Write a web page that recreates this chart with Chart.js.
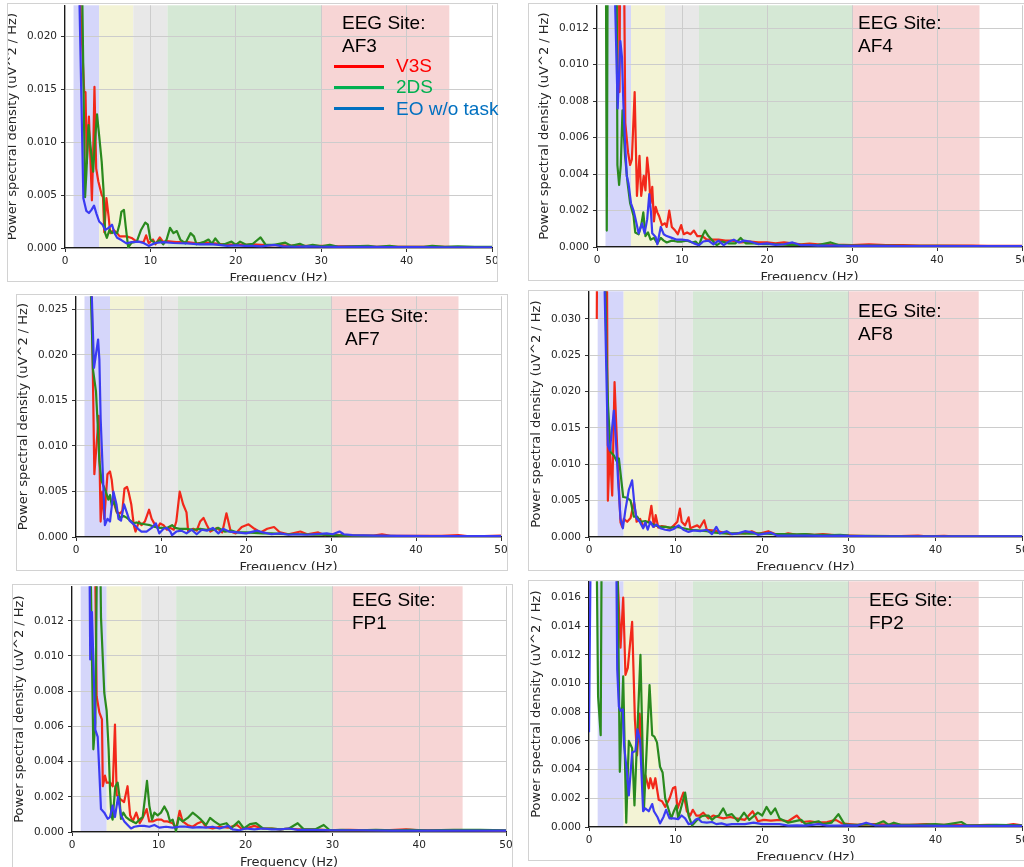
<!DOCTYPE html>
<html>
<head>
<meta charset="utf-8">
<script src="https://cdn.jsdelivr.net/npm/chart.js@4.4.1/dist/chart.umd.min.js"></script>
<style>
  html, body { margin: 0; padding: 0; background: #fff; width: 1024px; height: 867px; overflow: hidden; }
  .frame { position: absolute; box-sizing: border-box; border: 1px solid #d2d2d2; overflow: hidden; background: #fff; }
  .frame canvas { position: absolute; }
  .site { position: absolute; font-family: 'Liberation Sans', Arial, sans-serif; font-size: 19px; line-height: 22.5px; color: #000; white-space: pre; z-index: 5; }
  .key { position: absolute; height: 3px; width: 50px; z-index: 5; }
  .keytext { position: absolute; font-family: 'Liberation Sans', Arial, sans-serif; font-size: 19px; line-height: 22px; white-space: pre; z-index: 5; }
</style>
</head>
<body>
<script>
// frequency bands (Hz): delta, theta, alpha, beta, gamma
const bandStart = [1, 4, 8, 12, 30];
const bandEnd = [4, 8, 12, 30, 45];
const bandColors = ['rgb(213,214,250)', 'rgb(243,243,213)', 'rgb(232,232,232)', 'rgb(213,232,213)', 'rgb(247,213,213)'];

const xMin = 0, xMax = 50, xStep = 10;
const seriesNames = ['V3S', '2DS', 'EO w/o task'];
const lineColors = ['#f2281a', '#2a8a1e', '#3b3bf2'];
const legendColors = ['#ff0000', '#00b050', '#0070c0'];

// [frequency Hz, PSD uV^2/Hz]
const af3V3s = [[1.0,90e-3],[1.8,23e-3],[2.25,14.7e-3],[2.4,14.7e-3],[2.55,8e-3],[2.8,12.4e-3],[2.95,9e-3],[3.15,4.5e-3],[3.3,9e-3],[3.45,15.2e-3],[3.65,7.5e-3],[3.9,6.3e-3],[4.3,5.0e-3],[4.45,4.8e-3],[4.6,1.5e-3],[4.85,4.7e-3],[5.1,3.0e-3],[5.3,1.4e-3],[5.7,1.7e-3],[6.1,1.4e-3],[6.4,1.1e-3],[7.2,1.1e-3],[7.8,0.95e-3],[8.4,0.6e-3],[9.2,0.55e-3],[9.5,1.2e-3],[9.8,0.45e-3],[10.3,0.8e-3],[10.6,0.35e-3],[11.1,1.0e-3],[11.5,0.55e-3],[11.9,0.65e-3],[13,0.55e-3],[14.3,0.55e-3],[15.4,0.45e-3],[16.6,0.5e-3],[18,0.4e-3],[19,0.3e-3],[20,0.35e-3],[21,0.3e-3],[22,0.35e-3],[23,0.3e-3],[24,0.25e-3],[25,0.3e-3],[26,0.2e-3],[27,0.25e-3],[28,0.2e-3],[29,0.2e-3],[30,0.2e-3],[32,0.15e-3],[34,0.15e-3],[36,0.12e-3],[38,0.12e-3],[40,0.1e-3],[42,0.1e-3],[44,0.1e-3],[46,0.08e-3],[48,0.08e-3],[50,0.08e-3]];
const af3TwoDs = [[1.0,100e-3],[2.0,25e-3],[2.35,4.8e-3],[2.5,7e-3],[2.75,11.6e-3],[3.0,9.5e-3],[3.3,7.2e-3],[3.5,10e-3],[3.75,12.6e-3],[4.0,10.6e-3],[4.3,8.1e-3],[4.5,5.6e-3],[4.7,1.4e-3],[4.9,0.96e-3],[5.2,1.7e-3],[5.5,1.4e-3],[5.7,1.5e-3],[6.1,1.4e-3],[6.4,2.3e-3],[6.6,3.4e-3],[6.9,3.6e-3],[7.1,2.1e-3],[7.4,0.05e-3],[7.8,0.5e-3],[8.4,0.6e-3],[8.9,1.7e-3],[9.4,2.4e-3],[9.7,2.2e-3],[10.0,0.8e-3],[10.6,0.44e-3],[11.1,0.75e-3],[11.5,0.35e-3],[11.9,0.8e-3],[12.3,1.9e-3],[12.7,1.4e-3],[13.1,1.6e-3],[13.5,0.8e-3],[14.1,0.44e-3],[14.7,1.4e-3],[15.1,1.1e-3],[15.4,0.35e-3],[16.2,0.55e-3],[16.8,0.8e-3],[17.2,0.4e-3],[17.6,0.9e-3],[18.2,0.3e-3],[18.8,0.4e-3],[19.5,0.6e-3],[20.0,0.3e-3],[20.5,0.6e-3],[21.2,0.3e-3],[22.0,0.4e-3],[22.9,1.0e-3],[23.5,0.3e-3],[24.5,0.3e-3],[25.8,0.5e-3],[26.5,0.2e-3],[27.5,0.4e-3],[28.2,0.15e-3],[29.0,0.3e-3],[30,0.15e-3],[31,0.3e-3],[32,0.12e-3],[33.5,0.15e-3],[35.5,0.2e-3],[36.5,0.1e-3],[38,0.2e-3],[39,0.1e-3],[40.5,0.12e-3],[42,0.1e-3],[43,0.2e-3],[44.5,0.1e-3],[46,0.15e-3],[48,0.1e-3],[50,0.1e-3]];
const af3Eo = [[1.0,60e-3],[1.7,23e-3],[2.15,4.7e-3],[2.5,3.5e-3],[2.8,3.3e-3],[3.1,3.6e-3],[3.4,4.0e-3],[3.7,3.2e-3],[4.0,2.5e-3],[4.4,2.2e-3],[4.7,1.7e-3],[5.1,1.9e-3],[5.5,2.2e-3],[5.8,1.4e-3],[6.1,0.96e-3],[6.6,0.75e-3],[7.2,0.44e-3],[7.8,0.55e-3],[8.6,0.6e-3],[9.2,0.47e-3],[9.8,0.2e-3],[10.6,0.47e-3],[11.5,0.55e-3],[12.7,0.47e-3],[14.3,0.44e-3],[15.8,0.35e-3],[17,0.37e-3],[18,0.3e-3],[19,0.2e-3],[20,0.25e-3],[21,0.2e-3],[22,0.2e-3],[23,0.15e-3],[24.5,0.3e-3],[25.5,0.15e-3],[27,0.12e-3],[28.5,0.15e-3],[30,0.12e-3],[32,0.1e-3],[35,0.1e-3],[38,0.08e-3],[41,0.08e-3],[44,0.07e-3],[47,0.07e-3],[50,0.07e-3]];

const af4V3s = [[1.0,50e-3],[2.5,25e-3],[2.65,8.5e-3],[2.8,25e-3],[3.1,20e-3],[3.33,6.8e-3],[3.65,5.2e-3],[3.9,4.5e-3],[4.1,4.8e-3],[4.43,8.5e-3],[4.7,2.8e-3],[5.0,5.0e-3],[5.2,2.8e-3],[5.5,3.9e-3],[5.7,3.1e-3],[5.9,4.9e-3],[6.1,4.0e-3],[6.3,2.4e-3],[6.5,3.3e-3],[6.7,1.4e-3],[6.9,2.2e-3],[7.1,1.9e-3],[7.3,1.7e-3],[7.65,1.2e-3],[8.0,1.3e-3],[8.2,1.1e-3],[8.5,2.0e-3],[8.8,1.1e-3],[9.2,0.9e-3],[9.5,0.7e-3],[9.9,1.2e-3],[10.2,0.7e-3],[10.6,0.8e-3],[11.0,0.7e-3],[11.4,0.9e-3],[11.8,0.6e-3],[12.4,0.6e-3],[12.9,0.4e-3],[13.5,0.4e-3],[14.3,0.4e-3],[15.1,0.35e-3],[15.9,0.35e-3],[16.9,0.25e-3],[18,0.3e-3],[19,0.25e-3],[20,0.25e-3],[21,0.2e-3],[22,0.25e-3],[23,0.2e-3],[24,0.15e-3],[25,0.18e-3],[26,0.15e-3],[27,0.15e-3],[28,0.12e-3],[29,0.12e-3],[30,0.1e-3],[32,0.15e-3],[34,0.1e-3],[36,0.1e-3],[38,0.08e-3],[40,0.08e-3],[42,0.08e-3],[44,0.08e-3],[46,0.06e-3],[48,0.06e-3],[50,0.06e-3]];
const af4TwoDs = [[0.95,30e-3],[1.15,0.9e-3],[1.35,30e-3],[2.2,30e-3],[2.4,4.5e-3],[2.6,3.4e-3],[2.8,4.5e-3],[3.0,7.5e-3],[3.3,5.0e-3],[3.6,3.5e-3],[3.9,2.4e-3],[4.3,1.7e-3],[4.5,0.8e-3],[4.9,0.7e-3],[5.2,1.2e-3],[5.45,1.9e-3],[5.7,0.6e-3],[6.0,0.8e-3],[6.3,0.4e-3],[6.7,0.5e-3],[7.1,0.2e-3],[7.5,0.5e-3],[7.85,0.35e-3],[8.2,0.25e-3],[8.8,0.35e-3],[9.4,0.3e-3],[10,0.3e-3],[10.6,0.35e-3],[11.2,0.25e-3],[11.6,0.3e-3],[12,0.1e-3],[12.4,0.6e-3],[12.7,0.9e-3],[13.1,0.6e-3],[13.5,0.4e-3],[14.1,0.1e-3],[14.7,0.3e-3],[15.5,0.2e-3],[16.3,0.2e-3],[16.9,0.5e-3],[17.5,0.2e-3],[18.5,0.2e-3],[19.5,0.15e-3],[21,0.15e-3],[22.5,0.12e-3],[24,0.12e-3],[26,0.1e-3],[27.5,0.25e-3],[28.5,0.1e-3],[30,0.08e-3],[33,0.08e-3],[36,0.06e-3],[40,0.06e-3],[45,0.05e-3],[50,0.05e-3]];
const af4Eo = [[1.0,50e-3],[2.1,14e-3],[2.43,7.6e-3],[2.75,11.3e-3],[2.94,10.4e-3],[3.1,7.9e-3],[3.3,5.7e-3],[3.5,3.9e-3],[3.7,3.5e-3],[4.0,2.4e-3],[4.3,2.0e-3],[4.5,1.6e-3],[4.9,0.75e-3],[5.3,1.3e-3],[5.6,0.75e-3],[5.9,1.5e-3],[6.15,2.9e-3],[6.35,1.9e-3],[6.5,0.75e-3],[6.9,0.55e-3],[7.1,0.15e-3],[7.5,1.1e-3],[7.85,0.7e-3],[8.2,0.6e-3],[8.8,0.5e-3],[9.4,0.4e-3],[10,0.4e-3],[10.8,0.35e-3],[11.4,0.2e-3],[12,0.1e-3],[12.5,0.3e-3],[13.1,0.35e-3],[13.7,0.15e-3],[14.3,0.35e-3],[14.9,0.1e-3],[15.5,0.3e-3],[16.1,0.4e-3],[16.7,0.25e-3],[17.3,0.35e-3],[18,0.3e-3],[19,0.15e-3],[20,0.2e-3],[21,0.12e-3],[22,0.15e-3],[23,0.25e-3],[24,0.1e-3],[25,0.1e-3],[26,0.08e-3],[28,0.08e-3],[30,0.06e-3],[33,0.06e-3],[36,0.05e-3],[40,0.05e-3],[45,0.05e-3],[50,0.05e-3]];

const af7V3s = [[1.0,60e-3],[1.84,27e-3],[2.16,6.9e-3],[2.67,13.3e-3],[2.9,1.7e-3],[3.1,5.0e-3],[3.33,2.0e-3],[3.7,6.9e-3],[4.0,7.2e-3],[4.2,6.3e-3],[4.5,3.6e-3],[4.8,2.7e-3],[5.2,2.6e-3],[5.45,2.9e-3],[5.7,5.3e-3],[6.0,5.5e-3],[6.2,4.9e-3],[6.5,3.6e-3],[6.8,1.3e-3],[7.0,0.6e-3],[7.4,1.7e-3],[7.7,1.3e-3],[8.1,1.7e-3],[8.6,3.0e-3],[8.9,2.0e-3],[9.2,1.5e-3],[9.6,1.0e-3],[9.9,1.5e-3],[10.3,1.3e-3],[10.7,0.8e-3],[11.1,1.0e-3],[11.5,0.8e-3],[11.8,1.7e-3],[12.2,5.0e-3],[12.6,3.6e-3],[13.0,2.7e-3],[13.2,0.6e-3],[13.8,0.9e-3],[14.2,0.7e-3],[14.6,1.7e-3],[15.0,2.1e-3],[15.4,1.3e-3],[15.8,0.6e-3],[16.6,1.0e-3],[17.2,0.5e-3],[17.7,2.6e-3],[18.2,0.6e-3],[18.8,0.4e-3],[19.5,1.1e-3],[20.3,1.4e-3],[21.0,0.9e-3],[21.7,0.5e-3],[22.5,0.9e-3],[23.3,1.1e-3],[24.0,0.5e-3],[25.0,0.3e-3],[26.4,0.6e-3],[27.2,0.3e-3],[28.5,0.5e-3],[29.3,0.2e-3],[30,0.3e-3],[31,0.2e-3],[33,0.15e-3],[35,0.15e-3],[36,0.3e-3],[37,0.12e-3],[40,0.12e-3],[43,0.12e-3],[45,0.2e-3],[46,0.1e-3],[48,0.1e-3],[50,0.15e-3]];
const af7TwoDs = [[1.0,60e-3],[1.75,27e-3],[2.0,18.4e-3],[2.35,16.0e-3],[2.6,11.5e-3],[2.75,8.3e-3],[3.0,6.2e-3],[3.2,5.7e-3],[3.5,5.0e-3],[3.8,4.1e-3],[4.0,4.6e-3],[4.2,3.5e-3],[4.5,3.9e-3],[4.8,2.8e-3],[5.2,2.1e-3],[5.6,2.3e-3],[6.0,2.1e-3],[6.4,1.8e-3],[6.75,1.5e-3],[7.1,1.6e-3],[7.5,1.5e-3],[8.1,1.4e-3],[8.7,1.3e-3],[9.3,1.1e-3],[9.9,1.0e-3],[10.7,1.0e-3],[11.3,1.3e-3],[11.65,1.0e-3],[12.2,0.9e-3],[13.0,0.9e-3],[13.8,0.8e-3],[14.6,0.9e-3],[15.4,0.8e-3],[16.2,0.8e-3],[16.75,1.0e-3],[17.5,0.6e-3],[18.3,0.7e-3],[19,0.5e-3],[20,0.5e-3],[21,0.45e-3],[22,0.4e-3],[23,0.4e-3],[24,0.35e-3],[25,0.3e-3],[26,0.3e-3],[27,0.3e-3],[28,0.25e-3],[29,0.25e-3],[30,0.2e-3],[32,0.15e-3],[35,0.12e-3],[38,0.1e-3],[42,0.1e-3],[46,0.1e-3],[50,0.1e-3]];
const af7Eo = [[1.0,60e-3],[1.84,27e-3],[2.12,18.6e-3],[2.6,21.7e-3],[2.75,19.5e-3],[2.9,13.0e-3],[3.4,1.3e-3],[3.7,2.0e-3],[4.0,1.7e-3],[4.4,5.0e-3],[4.76,3.6e-3],[5.0,2.0e-3],[5.3,1.8e-3],[5.65,3.6e-3],[5.9,2.9e-3],[6.3,1.8e-3],[6.9,1.3e-3],[7.3,0.9e-3],[7.7,0.6e-3],[8.3,0.6e-3],[8.9,1.0e-3],[9.4,1.5e-3],[9.8,0.4e-3],[10.3,0.9e-3],[10.7,1.0e-3],[11.1,0.6e-3],[11.3,0.2e-3],[11.8,0.6e-3],[12.4,0.7e-3],[13.0,0.4e-3],[13.6,0.8e-3],[14.2,0.3e-3],[14.8,0.8e-3],[15.4,0.7e-3],[16.1,1.0e-3],[16.75,0.4e-3],[17.3,0.9e-3],[18,0.6e-3],[19,0.5e-3],[20,0.4e-3],[21.3,0.7e-3],[22,0.5e-3],[23,0.3e-3],[24,0.4e-3],[25,0.25e-3],[26,0.3e-3],[27,0.25e-3],[28,0.3e-3],[29.5,0.4e-3],[30.2,0.3e-3],[31.0,0.6e-3],[31.5,0.3e-3],[32.5,0.2e-3],[35,0.15e-3],[38,0.12e-3],[42,0.1e-3],[46,0.1e-3],[50,0.1e-3]];

const af8V3s = [[0.9,30.0e-3],[1.0,60e-3],[2.0,60e-3],[2.18,5.0e-3],[2.41,12.1e-3],[2.68,5.7e-3],[2.95,21.3e-3],[3.18,14.4e-3],[3.37,8.9e-3],[3.64,2.0e-3],[3.83,1.4e-3],[4.02,2.5e-3],[4.41,2.1e-3],[4.8,2.6e-3],[5.2,4.8e-3],[5.5,2.1e-3],[5.9,2.5e-3],[6.3,1.4e-3],[6.7,2.1e-3],[6.9,2.1e-3],[7.2,4.3e-3],[7.5,1.4e-3],[7.7,3.0e-3],[8.0,1.3e-3],[8.4,1.5e-3],[8.9,1.4e-3],[9.4,1.2e-3],[9.8,1.6e-3],[10.2,2.1e-3],[10.5,3.9e-3],[10.7,2.1e-3],[11.1,1.6e-3],[11.5,2.7e-3],[11.7,1.2e-3],[12.1,1.4e-3],[12.5,1.6e-3],[12.8,1.3e-3],[13.3,2.3e-3],[13.6,1.0e-3],[14.2,0.9e-3],[14.8,0.8e-3],[15.5,0.6e-3],[16.3,0.4e-3],[17.2,0.5e-3],[18,0.5e-3],[18.8,0.8e-3],[19.5,0.4e-3],[20.7,0.8e-3],[21.5,0.4e-3],[22.3,0.3e-3],[23,0.5e-3],[24,0.3e-3],[25,0.4e-3],[26,0.3e-3],[27,0.4e-3],[28,0.3e-3],[29,0.2e-3],[30,0.2e-3],[32,0.12e-3],[35,0.1e-3],[38,0.2e-3],[39,0.1e-3],[41,0.15e-3],[42,0.1e-3],[45,0.1e-3],[50,0.08e-3]];
const af8TwoDs = [[1.0,60e-3],[1.8,40e-3],[2.0,26.3e-3],[2.2,18e-3],[2.5,11.7e-3],[2.87,11.2e-3],[3.26,10.3e-3],[3.45,10.8e-3],[3.95,5.5e-3],[4.4,5.4e-3],[4.8,5.0e-3],[5.17,2.8e-3],[5.56,2.8e-3],[5.94,2.1e-3],[6.5,2.2e-3],[7.09,1.9e-3],[7.66,1.6e-3],[8.24,1.4e-3],[8.81,1.4e-3],[9.39,1.3e-3],[10.15,1.4e-3],[10.9,1.2e-3],[11.7,1.0e-3],[12.6,0.9e-3],[13.6,0.8e-3],[14.56,0.6e-3],[15.5,0.5e-3],[16.5,0.5e-3],[17.5,0.5e-3],[18.5,0.45e-3],[19.5,0.5e-3],[20.5,0.45e-3],[21.5,0.4e-3],[22.5,0.4e-3],[24,0.35e-3],[25,0.4e-3],[26,0.3e-3],[27,0.3e-3],[28,0.25e-3],[29,0.3e-3],[30,0.2e-3],[32,0.15e-3],[35,0.12e-3],[38,0.1e-3],[42,0.1e-3],[46,0.1e-3],[50,0.1e-3]];
const af8Eo = [[1.0,60e-3],[1.7,40e-3],[2.18,12.6e-3],[2.41,11.9e-3],[2.87,17.4e-3],[3.1,13.5e-3],[3.37,7.6e-3],[3.64,2.5e-3],[3.91,1.2e-3],[4.2,3.7e-3],[4.6,6.5e-3],[4.98,7.8e-3],[5.25,4.4e-3],[5.48,2.6e-3],[5.86,2.1e-3],[6.25,1.2e-3],[6.5,2.0e-3],[6.78,1.0e-3],[7.09,2.1e-3],[7.4,1.4e-3],[7.78,1.7e-3],[8.24,1.2e-3],[8.81,1.0e-3],[9.31,0.9e-3],[9.77,1.1e-3],[10.34,1.6e-3],[10.9,1.0e-3],[11.49,0.7e-3],[12.07,0.9e-3],[12.84,0.8e-3],[13.6,1.0e-3],[14.2,0.4e-3],[14.7,1.4e-3],[15.1,0.5e-3],[15.9,0.8e-3],[16.5,0.4e-3],[17.2,0.5e-3],[18,0.8e-3],[19,0.6e-3],[19.5,0.3e-3],[20.5,0.5e-3],[21,0.6e-3],[21.7,0.2e-3],[23,0.2e-3],[25,0.2e-3],[27,0.15e-3],[29,0.2e-3],[30,0.15e-3],[33,0.1e-3],[37,0.1e-3],[42,0.08e-3],[46,0.08e-3],[50,0.08e-3]];

const fp1V3s = [[1.0,50e-3],[2.45,25e-3],[2.84,7.7e-3],[3.15,6.8e-3],[3.3,6.6e-3],[3.45,6.4e-3],[3.55,2.6e-3],[3.8,3.2e-3],[4.0,2.8e-3],[4.4,2.8e-3],[4.7,2.6e-3],[4.95,6.1e-3],[5.15,2.1e-3],[5.5,1.9e-3],[6.0,1.7e-3],[6.4,2.6e-3],[6.7,0.95e-3],[7.0,0.6e-3],[7.4,1.1e-3],[7.8,0.5e-3],[8.1,0.75e-3],[8.6,1.3e-3],[8.9,0.6e-3],[9.3,0.6e-3],[9.75,0.7e-3],[10.3,0.7e-3],[10.6,0.6e-3],[11.0,0.6e-3],[11.6,0.5e-3],[12.0,0.2e-3],[12.4,1.2e-3],[12.75,0.6e-3],[13.3,0.4e-3],[13.9,0.3e-3],[14.5,0.5e-3],[15.0,0.6e-3],[15.4,0.3e-3],[16.2,0.2e-3],[17,0.3e-3],[18,0.25e-3],[19,0.4e-3],[19.5,0.2e-3],[20,0.2e-3],[21,0.35e-3],[22,0.2e-3],[23,0.2e-3],[24,0.15e-3],[25,0.2e-3],[26,0.15e-3],[27,0.15e-3],[28,0.15e-3],[29,0.12e-3],[30,0.1e-3],[32,0.12e-3],[34,0.1e-3],[36,0.1e-3],[38.5,0.15e-3],[40,0.1e-3],[43,0.1e-3],[46,0.1e-3],[50,0.08e-3]];
const fp1TwoDs = [[1.0,50e-3],[2.0,20e-3],[2.3,9.8e-3],[2.46,4.7e-3],[2.69,6.2e-3],[2.96,20e-3],[3.15,20e-3],[3.34,12.2e-3],[3.72,7.9e-3],[3.99,6.9e-3],[4.22,4.7e-3],[4.38,2.4e-3],[4.53,0.95e-3],[4.68,0.7e-3],[4.99,2.6e-3],[5.26,2.8e-3],[5.45,2.1e-3],[5.64,0.75e-3],[5.91,1.1e-3],[6.22,0.85e-3],[6.6,0.7e-3],[6.99,0.6e-3],[7.37,0.5e-3],[7.76,0.7e-3],[8.14,0.85e-3],[8.45,2.1e-3],[8.64,2.9e-3],[8.91,1.5e-3],[9.22,0.7e-3],[9.49,1.1e-3],[9.87,0.95e-3],[10.25,1.1e-3],[10.64,1.45e-3],[11.02,1.1e-3],[11.29,0.6e-3],[11.6,0.7e-3],[11.98,0.05e-3],[12.29,0.8e-3],[12.75,0.6e-3],[13.33,0.8e-3],[13.9,1.1e-3],[14.29,0.95e-3],[14.86,0.7e-3],[15.44,0.4e-3],[15.9,0.8e-3],[16.4,0.6e-3],[17,0.4e-3],[17.8,0.5e-3],[18.3,0.2e-3],[19.2,0.6e-3],[19.8,0.2e-3],[20.5,0.45e-3],[21.2,0.5e-3],[22,0.2e-3],[23,0.2e-3],[24,0.15e-3],[25,0.2e-3],[26,0.5e-3],[26.7,0.15e-3],[28,0.15e-3],[29,0.4e-3],[29.7,0.1e-3],[31,0.12e-3],[33,0.1e-3],[35,0.12e-3],[37,0.1e-3],[39,0.12e-3],[41,0.1e-3],[44,0.12e-3],[47,0.12e-3],[50,0.1e-3]];
const fp1Eo = [[1.0,50e-3],[1.95,20e-3],[2.1,9.8e-3],[2.3,12.5e-3],[2.69,5.8e-3],[2.96,5.4e-3],[3.15,3.4e-3],[3.34,1.3e-3],[3.72,1.1e-3],[4.11,0.75e-3],[4.38,0.85e-3],[4.68,1.5e-3],[4.95,0.85e-3],[5.3,2.0e-3],[5.64,0.95e-3],[6.03,0.6e-3],[6.41,0.4e-3],[6.8,0.2e-3],[7.18,0.3e-3],[7.76,0.35e-3],[8.33,0.35e-3],[8.91,0.3e-3],[9.49,0.4e-3],[10.06,0.25e-3],[10.83,0.3e-3],[11.6,0.25e-3],[12.37,0.3e-3],[13.1,0.3e-3],[13.9,0.25e-3],[14.67,0.28e-3],[15.44,0.25e-3],[16.2,0.3e-3],[17,0.2e-3],[18,0.35e-3],[18.5,0.15e-3],[19.3,0.1e-3],[20,0.2e-3],[21,0.15e-3],[22,0.2e-3],[23,0.15e-3],[24,0.15e-3],[25,0.2e-3],[26,0.12e-3],[28,0.12e-3],[30,0.1e-3],[33,0.1e-3],[37,0.08e-3],[41,0.08e-3],[45,0.08e-3],[50,0.08e-3]];

const fp2V3s = [[0.5,60e-3],[3.0,30e-3],[3.3,17.5e-3],[3.64,12.5e-3],[3.95,16.0e-3],[4.21,10.6e-3],[4.48,11.1e-3],[4.98,14.3e-3],[5.3,7.5e-3],[5.55,5.0e-3],[5.85,7.9e-3],[6.05,5.5e-3],[6.25,3.4e-3],[6.51,3.6e-3],[6.9,2.7e-3],[7.09,3.4e-3],[7.4,2.7e-3],[7.66,3.4e-3],[8.05,1.9e-3],[8.43,1.8e-3],[8.81,1.4e-3],[9.31,2.0e-3],[9.69,2.7e-3],[9.96,2.8e-3],[10.23,1.3e-3],[10.54,1.8e-3],[10.9,2.4e-3],[11.3,1.1e-3],[11.69,0.8e-3],[11.99,1.2e-3],[12.38,0.8e-3],[12.76,0.8e-3],[13.2,1.0e-3],[13.8,0.6e-3],[14.37,0.8e-3],[14.9,0.7e-3],[15.5,0.6e-3],[16.3,0.7e-3],[17,0.6e-3],[18,0.5e-3],[18.9,1.1e-3],[19.5,0.4e-3],[20.2,0.5e-3],[21,0.45e-3],[22,0.5e-3],[23,0.4e-3],[24,0.8e-3],[24.6,0.35e-3],[25.5,0.4e-3],[26.5,0.3e-3],[27.5,0.35e-3],[28.5,0.5e-3],[29.2,0.25e-3],[30,0.2e-3],[31,0.15e-3],[33,0.2e-3],[35,0.15e-3],[37,0.15e-3],[39,0.2e-3],[40,0.15e-3],[42,0.15e-3],[44,0.12e-3],[46,0.15e-3],[48,0.12e-3],[49,0.2e-3],[50,0.12e-3]];
const fp2TwoDs = [[0.7,30e-3],[1.05,9.1e-3],[1.35,6.4e-3],[1.55,30e-3],[3.1,30e-3],[3.56,3.85e-3],[3.95,10.5e-3],[4.3,0.3e-3],[4.6,6.0e-3],[4.98,5.5e-3],[5.25,1.5e-3],[5.94,12.0e-3],[6.35,1.3e-3],[6.99,9.9e-3],[7.3,6.4e-3],[7.55,6.3e-3],[7.85,5.9e-3],[8.2,4.2e-3],[8.5,3.8e-3],[8.8,2.0e-3],[9.2,1.2e-3],[9.5,0.6e-3],[9.8,1.1e-3],[10.1,1.5e-3],[10.3,0.6e-3],[10.7,1.5e-3],[11.1,2.4e-3],[11.5,0.8e-3],[11.9,0.1e-3],[12.5,0.5e-3],[13.0,0.75e-3],[13.4,0.8e-3],[13.8,0.8e-3],[14.2,0.5e-3],[14.6,0.7e-3],[15.0,0.8e-3],[15.5,1.3e-3],[15.9,0.8e-3],[16.5,0.9e-3],[17.2,0.4e-3],[17.9,1.0e-3],[18.5,0.5e-3],[19.5,1.0e-3],[20.0,0.8e-3],[20.5,1.4e-3],[21.0,0.9e-3],[21.5,1.3e-3],[22.0,0.6e-3],[23,0.3e-3],[24.5,0.5e-3],[25,0.2e-3],[26.5,0.4e-3],[27,0.2e-3],[28,0.3e-3],[28.8,0.9e-3],[29.5,0.2e-3],[30,0.15e-3],[31,0.15e-3],[32,0.2e-3],[33,0.15e-3],[34,0.4e-3],[34.6,0.15e-3],[35.2,0.3e-3],[36,0.15e-3],[38,0.15e-3],[40,0.2e-3],[41,0.15e-3],[43,0.35e-3],[43.6,0.12e-3],[45,0.12e-3],[47,0.15e-3],[50,0.12e-3]];
const fp2Eo = [[0.0,6.6e-3],[0.35,30e-3],[3.0,30e-3],[3.26,11.0e-3],[3.45,8.4e-3],[3.65,8.1e-3],[3.9,8.2e-3],[4.05,5.7e-3],[4.33,4.1e-3],[4.6,2.2e-3],[4.98,5.2e-3],[5.36,5.3e-3],[5.6,6.8e-3],[5.9,6.0e-3],[6.1,3.2e-3],[6.25,1.1e-3],[6.5,1.3e-3],[6.9,1.1e-3],[7.3,1.6e-3],[7.5,1.1e-3],[7.9,0.7e-3],[8.2,0.25e-3],[8.6,0.7e-3],[8.9,1.2e-3],[9.3,0.6e-3],[9.8,0.6e-3],[10.3,0.55e-3],[10.7,0.8e-3],[11.1,0.6e-3],[11.5,0.2e-3],[11.9,0.25e-3],[12.3,0.5e-3],[12.6,0.6e-3],[13.0,0.35e-3],[13.6,0.3e-3],[14.2,0.35e-3],[14.7,0.2e-3],[15.3,0.25e-3],[15.9,0.15e-3],[16.5,0.2e-3],[17,0.2e-3],[18,0.2e-3],[19,0.3e-3],[20,0.2e-3],[21,0.2e-3],[22,0.2e-3],[23,0.1e-3],[24,0.12e-3],[25,0.1e-3],[26.5,0.2e-3],[27.5,0.1e-3],[29,0.1e-3],[30,0.12e-3],[31,0.1e-3],[32,0.3e-3],[33,0.12e-3],[35,0.1e-3],[38,0.1e-3],[41,0.08e-3],[45,0.08e-3],[50,0.08e-3]];

const panels = [
  { site: 'AF3', series: [af3V3s, af3TwoDs, af3Eo], yMax: 0.0229, yStep: 0.005,
    frame: { l: 7, t: 3, r: 498, b: 282 }, plot: { l: 65, r: 492, t: 5, b: 248 }, text: { l: 342, t: 12 }, legend: true },
  { site: 'AF4', series: [af4V3s, af4TwoDs, af4Eo], yMax: 0.01326, yStep: 0.002,
    frame: { l: 528, t: 3, r: 1040, b: 281 }, plot: { l: 597, r: 1022, t: 5, b: 247 }, text: { l: 858, t: 12 } },
  { site: 'AF7', series: [af7V3s, af7TwoDs, af7Eo], yMax: 0.02645, yStep: 0.005,
    frame: { l: 16, t: 294, r: 508, b: 571 }, plot: { l: 76, r: 501, t: 296, b: 537 }, text: { l: 345, t: 305 } },
  { site: 'AF8', series: [af8V3s, af8TwoDs, af8Eo], yMax: 0.0338, yStep: 0.005,
    frame: { l: 528, t: 290, r: 1040, b: 571 }, plot: { l: 589, r: 1022, t: 291, b: 537 }, text: { l: 858, t: 300 } },
  { site: 'FP1', series: [fp1V3s, fp1TwoDs, fp1Eo], yMax: 0.01396, yStep: 0.002,
    frame: { l: 12, t: 584, r: 513, b: 869 }, plot: { l: 72, r: 506, t: 586, b: 832 }, text: { l: 352, t: 589 } },
  { site: 'FP2', series: [fp2V3s, fp2TwoDs, fp2Eo], yMax: 0.01713, yStep: 0.002,
    frame: { l: 528, t: 580, r: 1040, b: 861 }, plot: { l: 589, r: 1022, t: 581, b: 827 }, text: { l: 869, t: 589 } }
];

const Y_AXIS_W = 64, X_AXIS_H = 42, PAD_TOP = 10, PAD_RIGHT = 20;

const bandsPlugin = {
  id: 'bands',
  beforeDraw(chart) {
    const { ctx, chartArea: a, scales: { x } } = chart;
    ctx.save();
    bandStart.forEach((s, i) => {
      const x0 = x.getPixelForValue(s);
      const x1 = x.getPixelForValue(bandEnd[i]);
      ctx.fillStyle = bandColors[i];
      ctx.fillRect(x0, a.top, x1 - x0, a.bottom - a.top);
    });
    ctx.restore();
  }
};

const tickFont = { family: "'DejaVu Sans', sans-serif", size: 10.5 };
const titleFont = { family: "'DejaVu Sans', sans-serif", size: 13 };

function makePanel(p) {
  const frame = document.createElement('div');
  frame.className = 'frame';
  frame.style.cssText = `left:${p.frame.l}px; top:${p.frame.t}px; width:${p.frame.r - p.frame.l}px; height:${p.frame.b - p.frame.t}px;`;
  document.body.appendChild(frame);

  const w = p.plot.r - p.plot.l + Y_AXIS_W + PAD_RIGHT;
  const h = p.plot.b - p.plot.t + PAD_TOP + X_AXIS_H;
  const canvas = document.createElement('canvas');
  canvas.width = w;
  canvas.height = h;
  canvas.style.left = (p.plot.l - Y_AXIS_W - p.frame.l - 1) + 'px';
  canvas.style.top = (p.plot.t - PAD_TOP - p.frame.t - 1) + 'px';
  canvas.style.width = w + 'px';
  canvas.style.height = h + 'px';
  frame.appendChild(canvas);

  new Chart(canvas.getContext('2d'), {
    type: 'line',
    data: {
      datasets: p.series.map((pts, i) => ({
        label: seriesNames[i],
        data: pts.map(([x, y]) => ({ x, y })),
        borderColor: lineColors[i],
        borderWidth: 2.2,
        pointRadius: 0,
        tension: 0,
        borderJoinStyle: 'round',
        clip: 0,
        order: 3 - i
      }))
    },
    options: {
      responsive: false,
      animation: false,
      devicePixelRatio: 1,
      events: [],
      layout: { padding: { top: PAD_TOP, right: PAD_RIGHT, left: 0, bottom: 0 } },
      plugins: { legend: { display: false }, tooltip: { enabled: false } },
      scales: {
        x: {
          type: 'linear', min: xMin, max: xMax,
          ticks: { stepSize: xStep, font: tickFont, color: '#262626', padding: 3, maxRotation: 0 },
          grid: { color: '#cccccc', tickColor: '#333', tickLength: 4 },
          border: { display: true, color: '#1a1a1a', width: 1.2 },
          title: { display: true, text: 'Frequency (Hz)', font: titleFont, color: '#262626', padding: { top: 4, bottom: 4 } },
          afterFit(scale) { scale.height = X_AXIS_H; }
        },
        y: {
          type: 'linear', min: 0, max: p.yMax,
          ticks: { stepSize: p.yStep, includeBounds: false, font: tickFont, color: '#262626', padding: 4,
                   callback: v => v.toFixed(3) },
          grid: { color: '#cccccc', tickColor: '#333', tickLength: 4 },
          border: { display: true, color: '#1a1a1a', width: 1.2 },
          title: { display: true, text: 'Power spectral density (uV^2 / Hz)', font: titleFont, color: '#262626', padding: { top: 4, bottom: 4 } },
          afterFit(scale) { scale.width = Y_AXIS_W; }
        }
      }
    },
    plugins: [bandsPlugin]
  });

  const label = document.createElement('div');
  label.className = 'site';
  label.style.left = p.text.l + 'px';
  label.style.top = p.text.t + 'px';
  label.textContent = `EEG Site:\n${p.site}`;
  document.body.appendChild(label);

  if (p.legend) {
    const rows = [66, 87, 108.5];
    seriesNames.forEach((name, i) => {
      const key = document.createElement('div');
      key.className = 'key';
      key.style.cssText += `left:334px; top:${rows[i] - 1.5}px; background:${legendColors[i]};`;
      document.body.appendChild(key);
      const txt = document.createElement('div');
      txt.className = 'keytext';
      txt.style.cssText += `left:396px; top:${rows[i] - 11}px; color:${legendColors[i]};`;
      txt.textContent = name;
      document.body.appendChild(txt);
    });
  }
}

panels.forEach(makePanel);
</script>
</body>
</html>
